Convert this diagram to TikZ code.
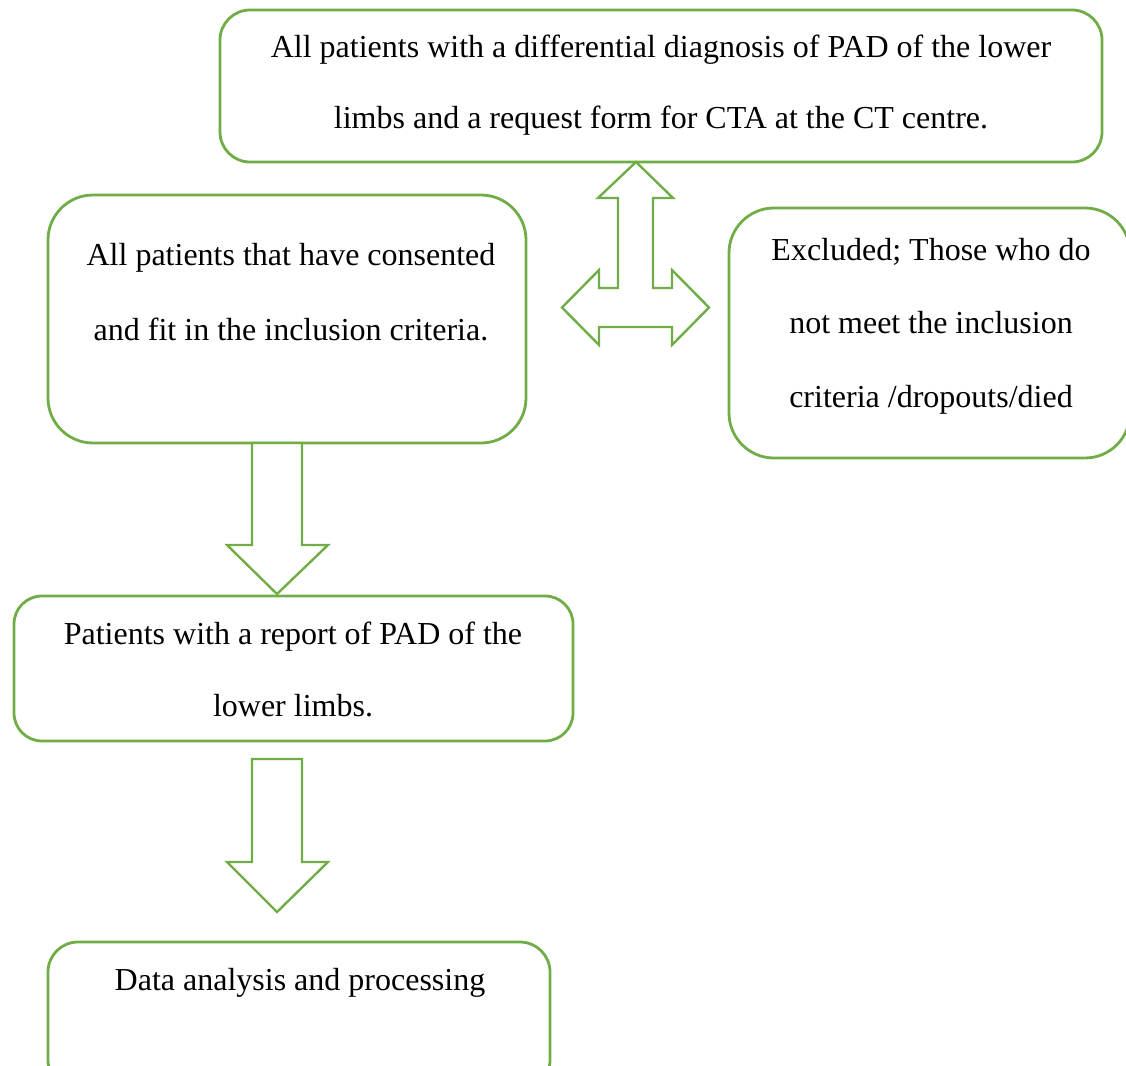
\documentclass[tikz,border=0pt]{standalone}
\usepackage{fontspec}
\setmainfont{Liberation Serif}
\definecolor{boxgreen}{HTML}{70AD47}
\tikzset{
  x=1pt, y=-1pt,
  flowbox/.style={draw=boxgreen, line width=2.8pt, fill=none},
  blockarrow/.style={draw=boxgreen, line width=2.4pt, fill=white, line join=miter},
  txt/.style={anchor=base, inner sep=0pt, font=\fontsize{32}{38}\selectfont, text=black}
}
\begin{document}
\begin{tikzpicture}
\useasboundingbox (0,0) rectangle (1126,1065);
\clip (0,0) rectangle (1126,1065);
% boxes
\draw[flowbox, rounded corners=30pt] (220,10) rectangle (1102,162);
\draw[flowbox, rounded corners=45pt] (48,195) rectangle (526,443);
\draw[flowbox, rounded corners=45pt] (729,208) rectangle (1130,458);
\draw[flowbox, rounded corners=28pt] (14,596) rectangle (573,741);
\draw[flowbox, rounded corners=30pt] (48,942) rectangle (550,1090);
% texts
\node[txt] (t1a) at (661,58) {All patients with a differential diagnosis of PAD of the lower};
\node[txt] (t1b) at (661,128) {limbs and a request form for CTA at the CT centre.};
\node[txt] (t2a) at (291,265) {All patients that have consented};
\node[txt] (t2b) at (291,340) {and fit in the inclusion criteria.};
\node[txt] (t3a) at (931,260) {Excluded; Those who do};
\node[txt] (t3b) at (931,333) {not meet the inclusion};
\node[txt] (t3c) at (931,407) {criteria /dropouts/died};
\node[txt] (t4a) at (293,644) {Patients with a report of PAD of the};
\node[txt] (t4b) at (293,716) {lower limbs.};
\node[txt] (t5a) at (300,990) {Data analysis and processing};
% T-shaped three-way arrow
\draw[blockarrow] (636,162) -- (673,198) -- (653,198) -- (653,288) -- (672,288) -- (672,270)
  -- (709,307.5) -- (672,345) -- (672,327) -- (599,327) -- (599,345) -- (562,307.5)
  -- (599,270) -- (599,288) -- (618,288) -- (618,198) -- (598,198) -- cycle;
% down arrow 1
\draw[blockarrow] (252,443) -- (302,443) -- (302,545) -- (328,545) -- (277,594) -- (227,545) -- (252,545) -- cycle;
% down arrow 2
\draw[blockarrow] (252,759) -- (302,759) -- (302,862) -- (328,862) -- (277,912) -- (227,862) -- (252,862) -- cycle;
\end{tikzpicture}
\end{document}
